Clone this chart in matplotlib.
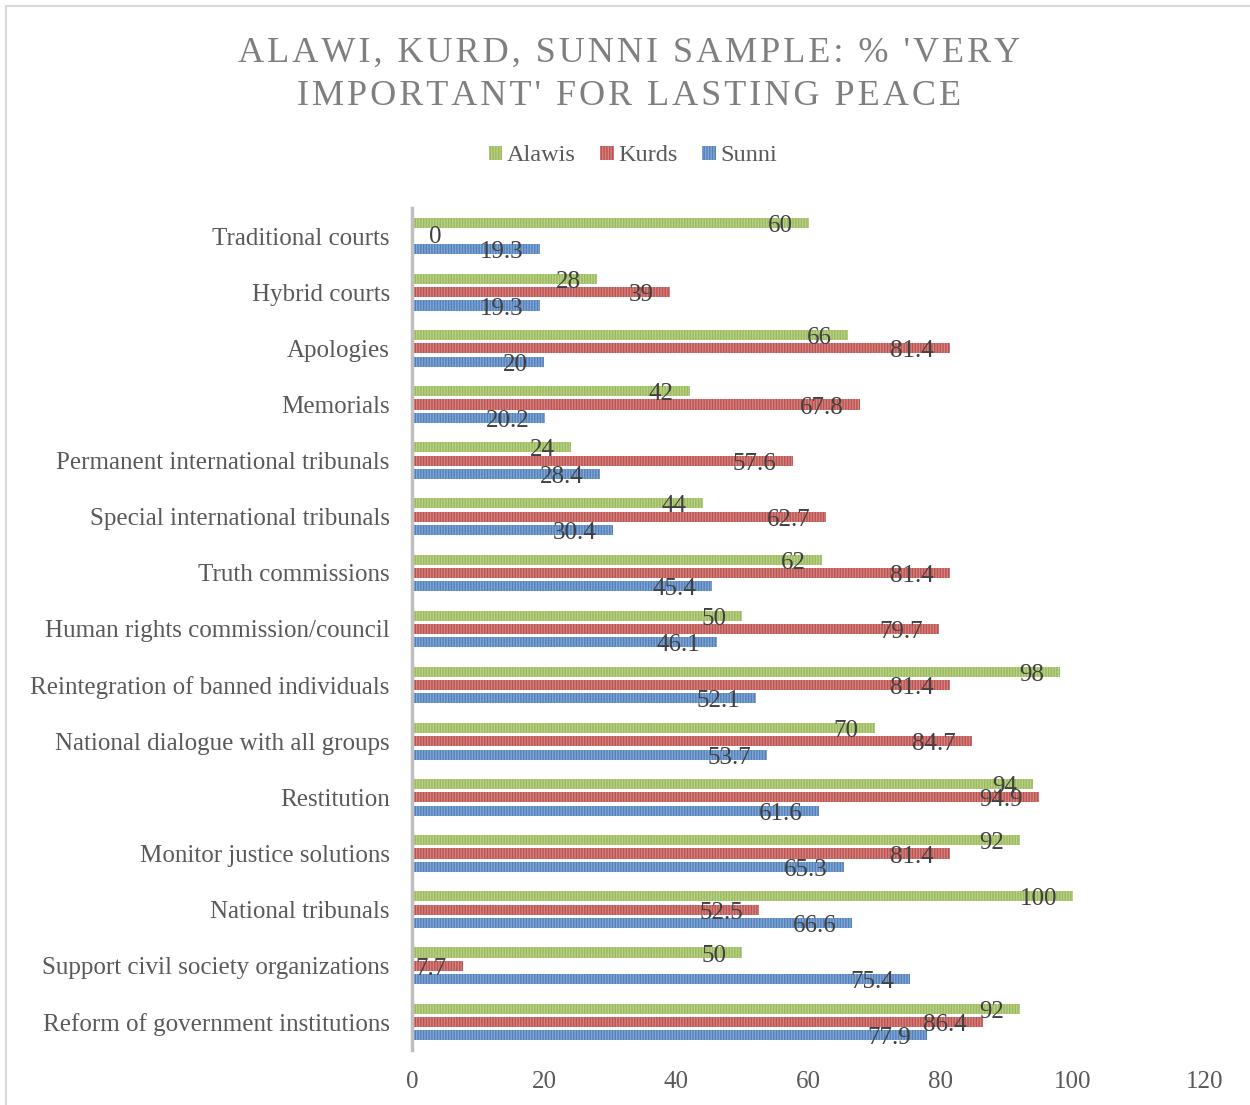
import matplotlib
matplotlib.use("Agg")
import matplotlib.pyplot as plt
from matplotlib.patches import Rectangle
import numpy as np

plt.rcParams['font.family'] = ['Liberation Serif', 'DejaVu Serif']
plt.rcParams['hatch.linewidth'] = 1.0

categories = [
    "Reform of government institutions",
    "Support civil society organizations",
    "National tribunals",
    "Monitor justice solutions",
    "Restitution",
    "National dialogue with all groups",
    "Reintegration of banned individuals",
    "Human rights commission/council",
    "Truth commissions",
    "Special international tribunals",
    "Permanent international tribunals",
    "Memorials",
    "Apologies",
    "Hybrid courts",
    "Traditional courts",
]
alawis = [92, 50, 100, 92, 94, 70, 98, 50, 62, 44, 24, 42, 66, 28, 60]
kurds = [86.4, 7.7, 52.5, 81.4, 94.9, 84.7, 81.4, 79.7, 81.4, 62.7, 57.6, 67.8, 81.4, 39, 0]
sunni = [77.9, 75.4, 66.6, 65.3, 61.6, 53.7, 52.1, 46.1, 45.4, 30.4, 28.4, 20.2, 20, 19.3, 19.3]
series_names = ["Alawis", "Kurds", "Sunni"]
x_ticks = [0, 20, 40, 60, 80, 100, 120]

title_text = "ALAWI, KURD, SUNNI SAMPLE: % 'VERY\nIMPORTANT' FOR LASTING PEACE"

fill_colors = ["#b9d08c", "#d08583", "#85a6d2"]
line_colors = ["#9BBB59", "#C0504D", "#4F81BD"]

fig = plt.figure(figsize=(12.5, 11.05), dpi=100)
fig.patch.set_facecolor("white")

# light frame around the chart area
fig.add_artist(Rectangle((6 / 1250, -0.01), 1.2, 1 - 6 / 1105 + 0.01,
                         transform=fig.transFigure, fill=False,
                         edgecolor="#d9d9d9", linewidth=1.5))

ax = fig.add_axes([412 / 1250, 1 - 1050 / 1105, 793 / 1250, 842 / 1105])

y = np.arange(len(categories))
pitch = 0.237
bar_h = 0.18
offsets = [pitch, 0.0, -pitch]
label_size = 18

for vals, off, fc, lc in zip([alawis, kurds, sunni], offsets, fill_colors, line_colors):
    ax.barh(y + off, vals, height=bar_h, color=fc, edgecolor=lc,
            hatch="||||||", linewidth=0)
    for v, yy in zip(vals, y + off):
        label = f"{v:g}"
        if v > 0:
            ax.annotate(label, (v, yy), xytext=(-11.5, -2.2), textcoords="offset points",
                        ha="right", va="center", fontsize=label_size, color="#404040")
        else:
            ax.annotate(label, (v, yy), xytext=(12, -0.5), textcoords="offset points",
                        ha="left", va="center", fontsize=label_size, color="#404040")

ax.set_xlim(0, 120)
ax.set_ylim(-0.5, len(categories) - 0.5)
ax.set_yticks(y)
ax.set_yticklabels(categories, fontsize=label_size, color="#595959")
ax.set_xticks(x_ticks)
ax.set_xticklabels([str(t) for t in x_ticks], fontsize=label_size, color="#595959")
ax.tick_params(axis="both", length=0)
ax.tick_params(axis="y", pad=16)
ax.tick_params(axis="x", pad=15)

for side in ["top", "right", "bottom"]:
    ax.spines[side].set_visible(False)
ax.spines["left"].set_color("#bfbfbf")
ax.spines["left"].set_linewidth(2.5)

# legend
handles = [Rectangle((0, 0), 1, 1, facecolor=fc, edgecolor=lc, hatch="||||||", linewidth=0)
           for fc, lc in zip(fill_colors, line_colors)]
fig.legend(handles, series_names, loc="center", bbox_to_anchor=(633 / 1250, 1 - 156 / 1105),
           ncol=3, frameon=False, fontsize=17.5, handlelength=0.55, handleheight=0.55,
           handletextpad=0.2, columnspacing=1.0, labelcolor="#595959")

# spaced-out title
spaced = "\n".join("\u200a".join(line) for line in title_text.split("\n"))
fig.text(629 / 1250, 1 - 75 / 1105, spaced, ha="center", va="center", fontsize=26,
         color="#7f7f7f", linespacing=1.4)

fig.savefig("out.png", dpi=100, facecolor="white")
